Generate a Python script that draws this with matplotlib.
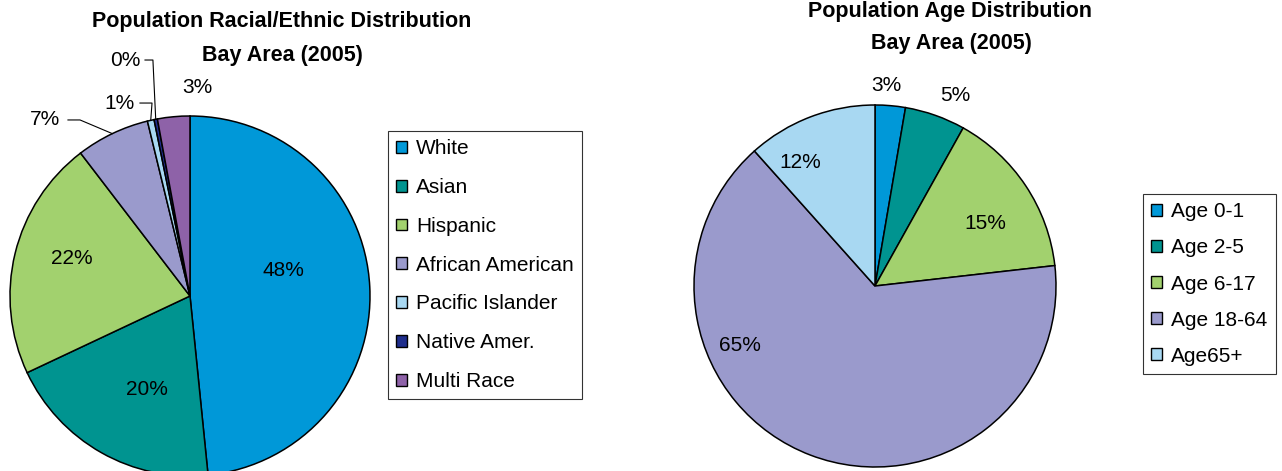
import matplotlib
matplotlib.use("Agg")
import matplotlib.pyplot as plt
from matplotlib.patches import Patch
import numpy as np

plt.rcParams['font.family'] = ['Liberation Sans', 'DejaVu Sans']

# ---------------- data ----------------
race_labels = ["White", "Asian", "Hispanic", "African American",
               "Pacific Islander", "Native Amer.", "Multi Race"]
race_values = [48.4, 19.6, 21.6, 6.6, 0.6, 0.3, 2.9]
race_colors = ["#0098D8", "#009490", "#A2D16E", "#9A9ACC",
               "#A8D8F2", "#1F2E8C", "#8E62A8"]

age_labels = ["Age 0-1", "Age 2-5", "Age 6-17", "Age 18-64", "Age65+"]
age_values = [2.7, 5.4, 15.1, 65.2, 11.6]
age_colors = ["#0098D8", "#009490", "#A2D16E", "#9A9ACC", "#A8D8F2"]

race_title = ["Population Racial/Ethnic Distribution", "Bay Area (2005)"]
age_title = ["Population Age Distribution", "Bay Area (2005)"]

# ---------------- layout (positions in pie-radius units) ----------------
race_label_pos = [(0.517, 0.144), (-0.239, -0.517), (-0.656, 0.211),
                  (-0.806, 0.978), (-0.389, 1.072), (-0.361, 1.311),
                  (0.039, 1.161)]
# leader lines: (start x, elbow x) for labels that have one
race_leaders = {3: (-0.678, -0.611), 4: (-0.278, -0.211), 5: (-0.25, -0.206)}

age_label_pos = [(0.061, 1.105), (0.442, 1.050), (0.608, 0.343),
                 (-0.746, -0.326), (-0.414, 0.685)]

W, H = 1282, 471
fig = plt.figure(figsize=(W / 100, H / 100), dpi=100)


def px_axes(cx, cy, r):
    return fig.add_axes([(cx - r) / W, (H - cy - r) / H, 2 * r / W, 2 * r / H])


def draw_pie(ax, values, colors):
    wedges, _ = ax.pie(values, colors=colors, startangle=90, counterclock=False,
                       radius=1.0,
                       wedgeprops=dict(edgecolor="black", linewidth=1.1))
    ax.set_xlim(-1, 1)
    ax.set_ylim(-1, 1)
    ax.set_aspect("equal")
    ax.axis("off")
    return wedges


LABEL_FS = 15

# ---- left pie ----
ax1 = px_axes(190, 296, 180)
w1 = draw_pie(ax1, race_values, race_colors)
for i, (v, w) in enumerate(zip(race_values, w1)):
    x, y = race_label_pos[i]
    ax1.text(x, y, f"{round(v)}%", ha="center", va="center",
             fontsize=LABEL_FS, clip_on=False)
    if i in race_leaders:
        sx, ex = race_leaders[i]
        theta = np.deg2rad((w.theta1 + w.theta2) / 2)
        px, py = np.cos(theta), np.sin(theta)
        ax1.plot([sx, ex, px], [y, y, py], color="black", lw=0.8,
                 clip_on=False)

# ---- right pie ----
ax2 = px_axes(875, 286, 181)
w2 = draw_pie(ax2, age_values, age_colors)
for i, v in enumerate(age_values):
    x, y = age_label_pos[i]
    ax2.text(x, y, f"{round(v)}%", ha="center", va="center",
             fontsize=LABEL_FS, clip_on=False)

# ---- titles ----
TITLE_FS = 15.5
fig.text(282 / W, 1 - 22 / H, race_title[0], ha="center", va="center",
         fontsize=TITLE_FS, fontweight="bold")
fig.text(282 / W, 1 - 55 / H, race_title[1], ha="center", va="center",
         fontsize=TITLE_FS, fontweight="bold")
fig.text(950 / W, 1 - 12 / H, age_title[0], ha="center", va="center",
         fontsize=TITLE_FS, fontweight="bold")
fig.text(951 / W, 1 - 43 / H, age_title[1], ha="center", va="center",
         fontsize=TITLE_FS, fontweight="bold")

# ---- legends ----
def make_legend(labels, colors, x0, y0, spacing):
    handles = [Patch(facecolor=c, edgecolor="black", linewidth=1.0)
               for c in colors]
    leg = fig.legend(handles, labels, loc="upper left",
                     bbox_to_anchor=(x0 / W, 1 - y0 / H),
                     fontsize=15, frameon=True, fancybox=False,
                     handlelength=0.5, handleheight=0.5,
                     handletextpad=0.45, labelspacing=spacing,
                     borderpad=0.4, borderaxespad=0)
    fr = leg.get_frame()
    fr.set_edgecolor("black")
    fr.set_linewidth(0.8)
    return leg

make_legend(race_labels, race_colors, 388, 131, 0.95)
make_legend(age_labels, age_colors, 1143, 194, 0.82)

fig.savefig("out.png", dpi=100)
